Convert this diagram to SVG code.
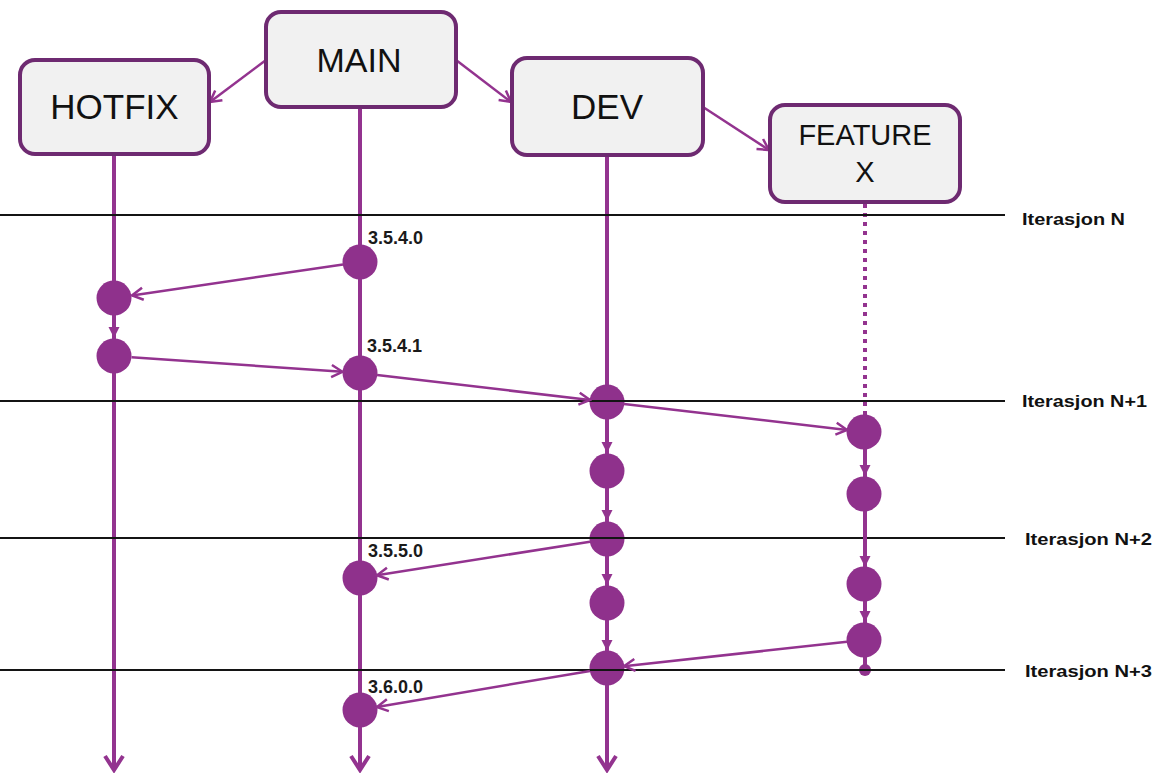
<svg xmlns="http://www.w3.org/2000/svg" width="1159" height="773" viewBox="0 0 1159 773">
  <style>
    .box { fill: #f1f1f1; stroke: #6e2a71; stroke-width: 4; }
    .boxtxt { font-family: "Liberation Sans", Arial, sans-serif; fill: #111; text-anchor: middle; }
    .trunk { stroke: #93338f; stroke-width: 4; fill: none; }
    .conn { stroke: #93338f; stroke-width: 2.5; fill: none; }
    .step { stroke: #93338f; stroke-width: 4; fill: none; }
    .commit { fill: #8f318c; }
    .iter { stroke: #141414; stroke-width: 2; }
    .itertxt { font-family: "Liberation Sans", Arial, sans-serif; font-weight: bold; font-size: 17px; fill: #111; }
    .ver { font-family: "Liberation Sans", Arial, sans-serif; font-weight: bold; font-size: 18px; fill: #1a1a1a; }
  </style>
  <defs>
    <marker id="open" markerUnits="userSpaceOnUse" markerWidth="16" markerHeight="16" viewBox="0 0 16 16" refX="14" refY="8" orient="auto">
      <path d="M3,2 L14,8 L3,14" fill="none" stroke="#93338f" stroke-width="2.5"/>
    </marker>
    <marker id="openBig" markerUnits="userSpaceOnUse" markerWidth="20" markerHeight="24" viewBox="0 0 20 24" refX="17" refY="12" orient="auto">
      <path d="M3,3 L17,12 L3,21" fill="none" stroke="#93338f" stroke-width="4"/>
    </marker>
    <marker id="tri" markerUnits="userSpaceOnUse" markerWidth="14" markerHeight="14" viewBox="0 0 14 14" refX="12" refY="7" orient="auto">
      <path d="M1,1.5 L12,7 L1,12.5 Z" fill="#93338f"/>
    </marker>
  </defs>

  <!-- branch trunks -->
  <g id="trunks">
    <line class="trunk" x1="114" y1="155" x2="114" y2="770" marker-end="url(#openBig)"/>
    <line class="trunk" x1="360" y1="107" x2="360" y2="770" marker-end="url(#openBig)"/>
    <line class="trunk" x1="607" y1="155" x2="607" y2="770" marker-end="url(#openBig)"/>
    <line class="trunk" x1="865" y1="204" x2="865" y2="415" stroke-dasharray="4 5"/>
    <line class="trunk" x1="865" y1="432" x2="865" y2="670"/>
  </g>

  <!-- commits -->
  <g id="commits">
    <circle class="commit" cx="360" cy="262" r="17.5"/>
    <circle class="commit" cx="360" cy="373" r="17.5"/>
    <circle class="commit" cx="360" cy="578" r="17.5"/>
    <circle class="commit" cx="360" cy="710" r="17.5"/>
    <circle class="commit" cx="114" cy="298" r="17.5"/>
    <circle class="commit" cx="114" cy="356" r="17.5"/>
    <circle class="commit" cx="607" cy="402" r="17.5"/>
    <circle class="commit" cx="607" cy="471" r="17.5"/>
    <circle class="commit" cx="607" cy="539" r="17.5"/>
    <circle class="commit" cx="607" cy="603" r="17.5"/>
    <circle class="commit" cx="607" cy="668" r="17.5"/>
    <circle class="commit" cx="864" cy="432" r="17.5"/>
    <circle class="commit" cx="864" cy="494" r="17.5"/>
    <circle class="commit" cx="864" cy="584" r="17.5"/>
    <circle class="commit" cx="864" cy="640" r="17.5"/>
    <circle class="commit" cx="865" cy="670" r="6"/>
  </g>

  <!-- iteration boundaries -->
  <g id="iterations">
    <line class="iter" x1="0" y1="215" x2="1005" y2="215"/>
    <line class="iter" x1="0" y1="401" x2="1005" y2="401"/>
    <line class="iter" x1="0" y1="538" x2="1005" y2="538"/>
    <line class="iter" x1="0" y1="670" x2="1005" y2="670"/>
    <text class="itertxt" x="1022" y="225" textLength="103" lengthAdjust="spacingAndGlyphs">Iterasjon N</text>
    <text class="itertxt" x="1022" y="407" textLength="125" lengthAdjust="spacingAndGlyphs">Iterasjon N+1</text>
    <text class="itertxt" x="1025" y="545" textLength="127" lengthAdjust="spacingAndGlyphs">Iterasjon N+2</text>
    <text class="itertxt" x="1025" y="677" textLength="127" lengthAdjust="spacingAndGlyphs">Iterasjon N+3</text>
  </g>

  <!-- connectors: branch creation, merges and steps -->
  <g id="connectors">
    <line class="conn" x1="266" y1="60" x2="210" y2="102" marker-end="url(#open)"/>
    <line class="conn" x1="456" y1="60" x2="511" y2="102" marker-end="url(#open)"/>
    <line class="conn" x1="703" y1="107" x2="769" y2="150" marker-end="url(#open)"/>

    <line class="conn" x1="343" y1="264.5" x2="132" y2="295.4" marker-end="url(#open)"/>
    <line class="conn" x1="131.5" y1="357.2" x2="342.5" y2="371.8" marker-end="url(#open)"/>
    <line class="conn" x1="377" y1="375" x2="590" y2="400" marker-end="url(#open)"/>
    <line class="conn" x1="624" y1="404" x2="847" y2="430" marker-end="url(#open)"/>
    <line class="conn" x1="590" y1="541.7" x2="377" y2="575.3" marker-end="url(#open)"/>
    <line class="conn" x1="847" y1="641.8" x2="624" y2="666.2" marker-end="url(#open)"/>
    <line class="conn" x1="590" y1="670.9" x2="377" y2="707.1" marker-end="url(#open)"/>

    <line class="step" x1="114" y1="316" x2="114" y2="338" marker-end="url(#tri)"/>
    <line class="step" x1="607" y1="420" x2="607" y2="453" marker-end="url(#tri)"/>
    <line class="step" x1="607" y1="489" x2="607" y2="521" marker-end="url(#tri)"/>
    <line class="step" x1="607" y1="557" x2="607" y2="585" marker-end="url(#tri)"/>
    <line class="step" x1="607" y1="621" x2="607" y2="651" marker-end="url(#tri)"/>
    <line class="step" x1="865" y1="450" x2="865" y2="476" marker-end="url(#tri)"/>
    <line class="step" x1="865" y1="512" x2="865" y2="567" marker-end="url(#tri)"/>
    <line class="step" x1="865" y1="602" x2="865" y2="622" marker-end="url(#tri)"/>
  </g>

  <!-- version tags on main -->
  <g id="versions">
    <text class="ver" x="368" y="244">3.5.4.0</text>
    <text class="ver" x="367" y="352">3.5.4.1</text>
    <text class="ver" x="368" y="557">3.5.5.0</text>
    <text class="ver" x="368" y="693">3.6.0.0</text>
  </g>

  <!-- branch nodes -->
  <g id="hotfix">
    <rect class="box" x="20" y="60" width="189" height="94" rx="15"/>
    <text class="boxtxt" x="114.5" y="119" font-size="35">HOTFIX</text>
  </g>
  <g id="main">
    <rect class="box" x="266" y="12" width="190" height="95" rx="15"/>
    <text class="boxtxt" x="359" y="72" font-size="34">MAIN</text>
  </g>
  <g id="dev">
    <rect class="box" x="512" y="58" width="191" height="97" rx="15"/>
    <text class="boxtxt" x="607" y="119" font-size="35">DEV</text>
  </g>
  <g id="feature-x">
    <rect class="box" x="770" y="105" width="190" height="97" rx="15"/>
    <text class="boxtxt" x="865" y="145" font-size="29">FEATURE</text>
    <text class="boxtxt" x="865" y="182" font-size="29">X</text>
  </g>
</svg>
